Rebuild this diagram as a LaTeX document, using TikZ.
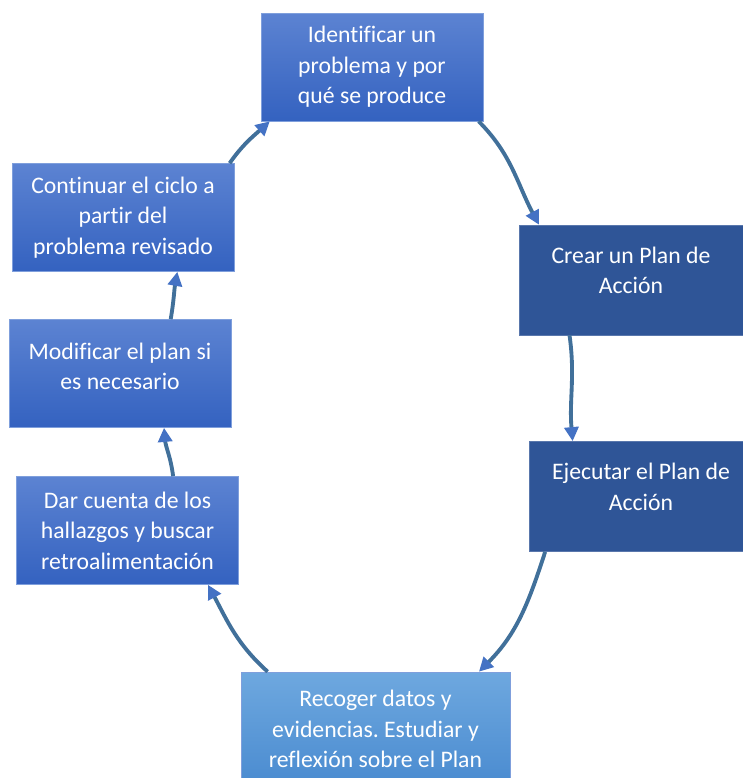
\documentclass[tikz,border=0pt]{standalone}
\usepackage{fontspec}
\setmainfont{Carlito}[Ligatures=NoCommon]
\usetikzlibrary{shapes,arrows.meta}
\definecolor{midtop}{HTML}{5C83D2}
\definecolor{midbottom}{HTML}{3462C0}
\definecolor{darkblue}{HTML}{2F5597}
\definecolor{lighttop}{HTML}{6EA8DF}
\definecolor{lightbottom}{HTML}{4A8BD0}
\definecolor{boxedge}{HTML}{7F9FDC}
\definecolor{linecol}{HTML}{41709A}
\definecolor{tipcol}{HTML}{4472C4}
\tikzstyle{basebox}   = [rectangle, draw=boxedge, line width=0.4pt, text=white, align=center, minimum width=4.44cm, minimum height=2.16cm, font=\fontsize{13.5}{17.3}\selectfont]
\tikzstyle{midbox}    = [basebox, top color=midtop, bottom color=midbottom]
\tikzstyle{darkbox}   = [basebox, fill=darkblue, draw=darkblue!80!white, minimum width=4.48cm, minimum height=2.2cm]
\tikzstyle{lightbox}  = [basebox, top color=lighttop, bottom color=lightbottom, minimum width=5.38cm, minimum height=2.28cm]
\tikzstyle{line}      = [draw=linecol, line width=2.2pt, -{Triangle[length=8pt, width=8pt, color=tipcol]}]
\frenchspacing

\begin{document}
\begin{tikzpicture}[x=0.02cm, y=-0.02cm]
        \useasboundingbox (0,0) rectangle (743,778);
        \clip (0,0) rectangle (743,778);
        \node [midbox] (problema) at (372,67) {Identificar un\\problema y por\\qué se produce};
        \node [darkbox] (crear) at (631,280) {Crear un Plan de\\Acción\\[-6pt]};
        \node [darkbox] (ejecutar) at (641,496.5) {Ejecutar el Plan de\\Acción\\[-6pt]};
        \node [lightbox] (recoger) at (375.5,729) {Recoger datos y\\evidencias. Estudiar y\\reflexión sobre el Plan};
        \node [midbox] (dar) at (127.5,530.5) {Dar cuenta de los\\hallazgos y buscar\\retroalimentación};
        \node [midbox] (modificar) at (120,373.5) {Modificar el plan si\\es necesario\\[-9pt]};
        \node [midbox] (continuar) at (123,217.5) {Continuar el ciclo a\\partir del\\problema revisado};

        \path [line] (problema.-27) to[out=-45, in=118] (crear.149);
        \path [line] (crear.-138) to[out=-82, in=95] (ejecutar.141);
        \path [line] (ejecutar.-150) to[out=-108, in=45] (recoger.29);
        \path [line] (recoger.152) to[out=138, in=-62] (dar.-34);
        \path [line] (dar.50) to[out=97, in=-85] (modificar.-51);
        \path [line] (modificar.47) to[out=80, in=-100] (continuar.-45);
        \path [line] (continuar.27) to[out=55, in=-138] (problema.-152);
      \end{tikzpicture}
\end{document}
